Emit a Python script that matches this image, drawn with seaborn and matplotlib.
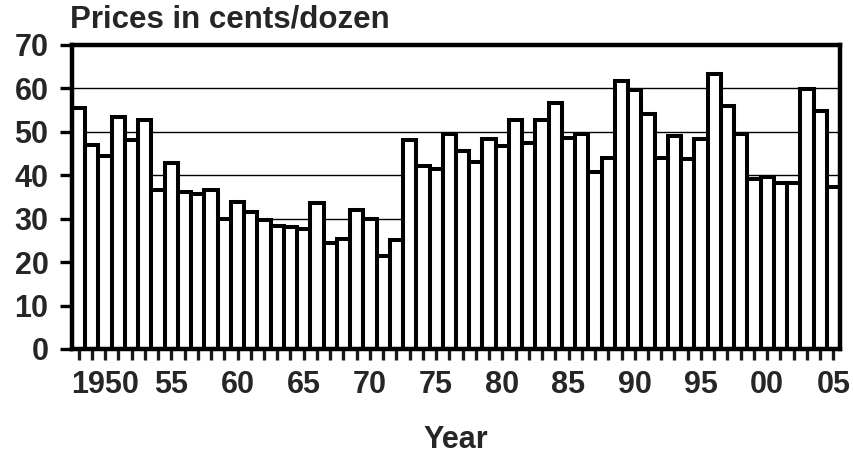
import numpy as np
import pandas as pd
import seaborn as sns
import matplotlib
matplotlib.use("Agg")
import matplotlib.pyplot as plt

# egg prices, cents per dozen, 1948-2005
years = list(range(1948, 2006))
prices = [55.4, 47.0, 44.5, 53.5, 48.1, 52.7, 36.5, 42.8, 36.2, 35.8,
          36.6, 29.9, 33.9, 31.6, 29.7, 28.4, 28.0, 27.6, 33.7, 24.5,
          25.4, 32.0, 29.9, 21.4, 25.1, 48.1, 42.2, 41.4, 49.4, 45.6,
          43.1, 48.4, 46.7, 52.7, 47.5, 52.7, 56.6, 48.5, 49.4, 40.7,
          43.9, 61.7, 59.6, 54.1, 43.9, 49.0, 43.7, 48.4, 63.3, 56.0,
          49.4, 39.1, 39.7, 38.3, 38.3, 59.8, 54.8, 37.4]
label_years = [1950, 1955, 1960, 1965, 1970, 1975, 1980, 1985, 1990, 1995, 2000, 2005]
label_text = ["1950", "55", "60", "65", "70", "75", "80", "85", "90", "95", "00", "05"]

df = pd.DataFrame({"year": [str(y) for y in years], "price": prices})

sns.set_style("white")
plt.rcParams["font.family"] = ["Liberation Sans", "DejaVu Sans"]
plt.rcParams["font.weight"] = "bold"

fig = plt.figure(figsize=(8.54, 4.55), dpi=100)
ax = fig.add_axes([72 / 854, 1 - 349 / 455, 768 / 854, 304 / 455])

sns.barplot(data=df, x="year", y="price", color="white", saturation=1,
            edgecolor="black", linewidth=2.9, width=1.0, ax=ax, zorder=2)

ax.set_xlim(-0.5, len(years) - 0.5)
ax.set_ylim(0, 70)
ax.set_yticks(range(0, 71, 10))
ax.set_yticklabels([str(v) for v in range(0, 71, 10)], fontsize=22, fontweight="bold")

ax.set_xticks(range(len(years)))
labels = ["" for _ in years]
for y, t in zip(label_years, label_text):
    labels[years.index(y)] = t
ax.set_xticklabels(labels, fontsize=22, fontweight="bold")

ax.tick_params(axis="x", direction="out", length=8, width=2.4, color="#1a1a1a",
               pad=7, bottom=True)
ax.tick_params(axis="y", direction="out", length=9, width=2.4, color="black",
               pad=8, left=True)

ax.set_axisbelow(True)
for v in range(10, 70, 10):
    ax.axhline(v, color="black", linewidth=1.0, zorder=0)

for s in ax.spines.values():
    s.set_visible(True)
    s.set_color("black")
    s.set_linewidth(3.2)

ax.set_xlabel("Year", fontsize=22, fontweight="bold", labelpad=18)
ax.set_ylabel("")
fig.text(70 / 854, 1 - 28 / 455, "Prices in cents/dozen", fontsize=22.5,
         fontweight="bold", ha="left", va="baseline")

fig.savefig("out.png", dpi=100)
